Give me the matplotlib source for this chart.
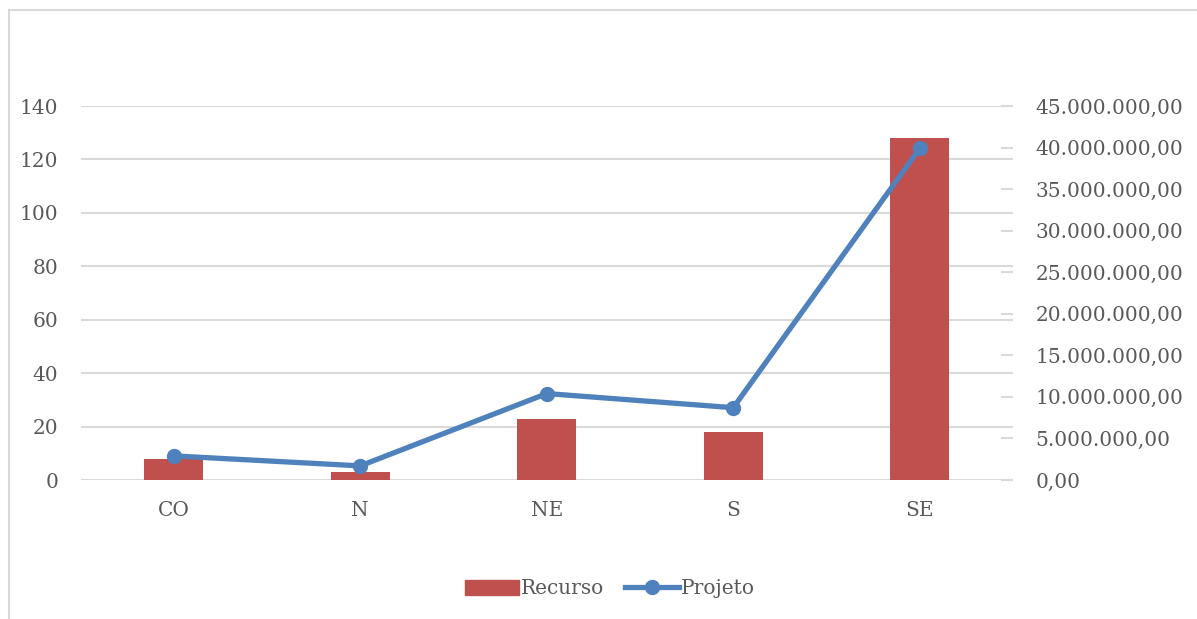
import matplotlib.pyplot as plt
import matplotlib.patches as patches
from matplotlib.ticker import FuncFormatter
import numpy as np

# Data
regioes = ['CO', 'N', 'NE', 'S', 'SE']
recurso = [8, 3, 23, 18, 128]
projeto = [2.9e6, 1.7e6, 10.4e6, 8.7e6, 39.9e6]

bar_color = '#C0504D'
line_color = '#4F81BD'
text_color = '#595959'
grid_color = '#D9D9D9'

plt.rcParams['font.family'] = ['DejaVu Serif']


def br_format(v, pos):
    s = '{:,.2f}'.format(v)
    return s.replace(',', 'X').replace('.', ',').replace('X', '.')


fig = plt.figure(figsize=(11.97, 6.19), dpi=100)
W, H = 1197, 619

# chart frame
fig.patches.append(patches.Rectangle((9 / W, -0.1), 1.2, (H - 10) / H + 0.1,
                                     transform=fig.transFigure, fill=False,
                                     edgecolor=grid_color, lw=1.5))

ax = fig.add_axes([80.5 / W, 139 / H, 932.5 / W, 374 / H])
x = np.arange(len(regioes))
ax.bar(x, recurso, width=0.315, color=bar_color, zorder=2)
ax.set_ylim(0, 140)
ax.set_xlim(-0.5, len(regioes) - 0.5)
ax.set_yticks(range(0, 141, 20))
ax.set_xticks(x)
ax.set_xticklabels(regioes)
ax.yaxis.grid(True, color=grid_color, lw=1.5, zorder=0)
for s in ax.spines.values():
    s.set_visible(False)
ax.tick_params(axis='both', length=0, labelsize=14.5, colors=text_color)
ax.tick_params(axis='x', pad=15)
ax.tick_params(axis='y', pad=16)

ax2 = ax.twinx()
ax2.plot(x, projeto, color=line_color, lw=3.8, marker='o', markersize=10,
         zorder=3)
ax2.set_ylim(0, 45e6)
ax2.set_yticks(np.arange(0, 45e6 + 1, 5e6))
ax2.yaxis.set_major_formatter(FuncFormatter(br_format))
for s in ax2.spines.values():
    s.set_visible(False)
ax2.tick_params(axis='y', direction='in', length=9, width=1.5,
                color=grid_color, labelsize=14.5, labelcolor=text_color, pad=16)

h1 = patches.Patch(color=bar_color)
h2, = ax2.plot([], [], color=line_color, lw=3.8, marker='o', markersize=10)
fig.legend([h1, h2], ['Recurso', 'Projeto'], loc='center',
           bbox_to_anchor=(610 / W, 1 - 589 / H), ncol=2, frameon=False,
           fontsize=14.5, labelcolor=text_color, handlelength=2.7,
           handletextpad=0.1, columnspacing=1.0)

fig.savefig('out.png', dpi=100)
